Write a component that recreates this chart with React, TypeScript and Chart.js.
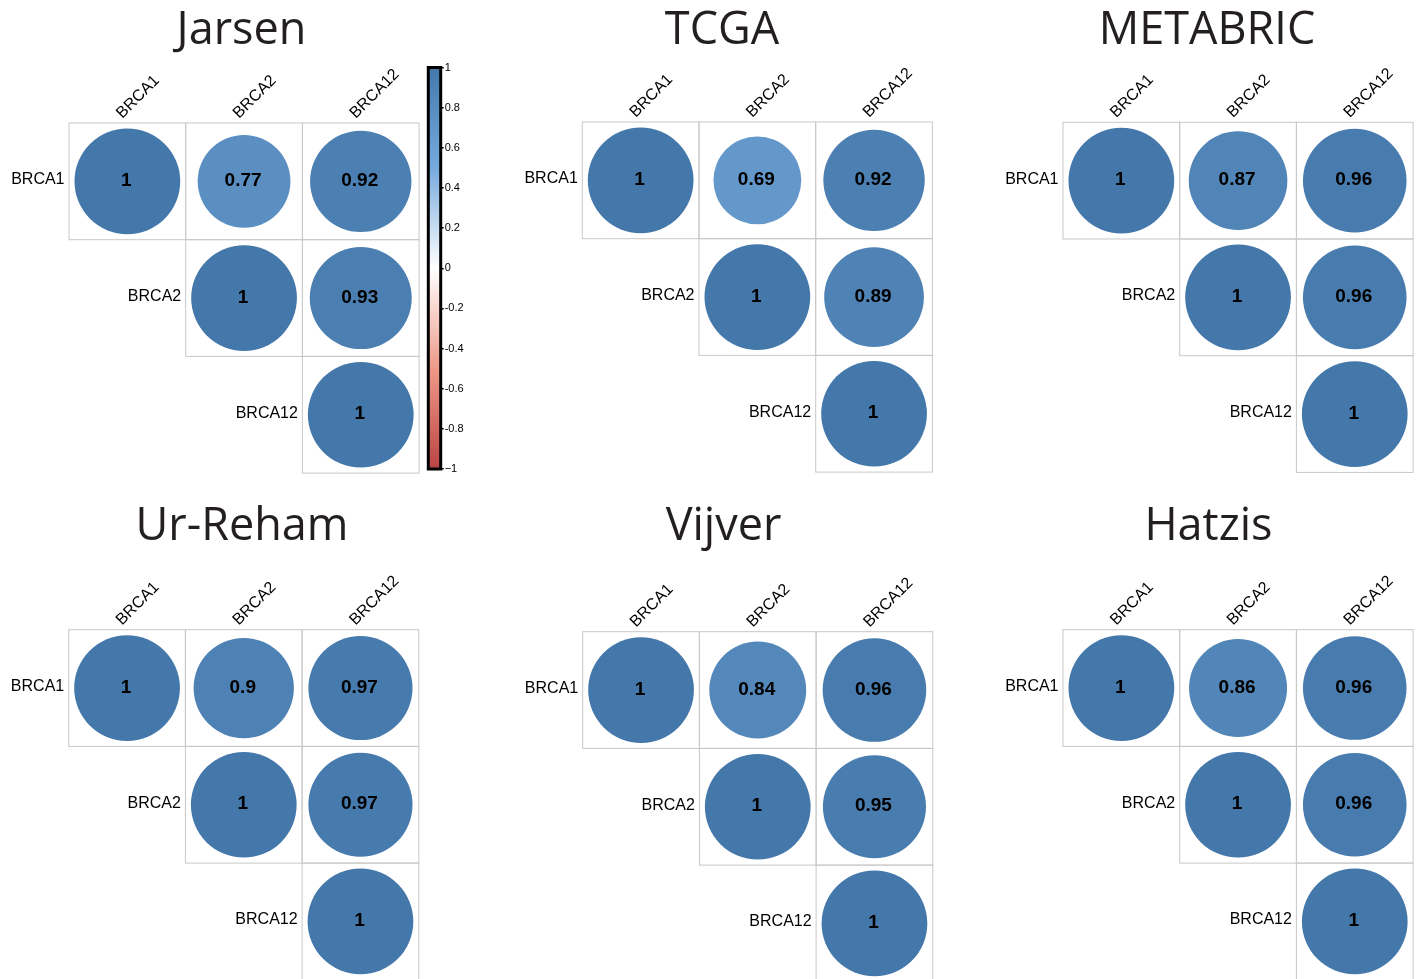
import React, { useEffect, useRef } from "react";
import { Chart, registerables } from "chart.js";

Chart.register(...registerables);

// ---------- data ----------
const genes = ["BRCA1", "BRCA2", "BRCA12"];
const panelTitles = ["Jarsen", "TCGA", "METABRIC", "Ur-Reham", "Vijver", "Hatzis"];
// upper-triangle values in order (0,0),(0,1),(0,2),(1,1),(1,2),(2,2)
const jarsenValues = [1, 0.77, 0.92, 1, 0.93, 1];
const tcgaValues = [1, 0.69, 0.92, 1, 0.89, 1];
const metabricValues = [1, 0.87, 0.96, 1, 0.96, 1];
const urRehamValues = [1, 0.9, 0.97, 1, 0.97, 1];
const vijverValues = [1, 0.84, 0.96, 1, 0.95, 1];
const hatzisValues = [1, 0.86, 0.96, 1, 0.96, 1];
const panelValues = [jarsenValues, tcgaValues, metabricValues, urRehamValues, vijverValues, hatzisValues];
const cellLabels = [
  ["1", "0.77", "0.92", "1", "0.93", "1"],
  ["1", "0.69", "0.92", "1", "0.89", "1"],
  ["1", "0.87", "0.96", "1", "0.96", "1"],
  ["1", "0.9", "0.97", "1", "0.97", "1"],
  ["1", "0.84", "0.96", "1", "0.95", "1"],
  ["1", "0.86", "0.96", "1", "0.96", "1"],
];
const colorbarTicks = [-1, -0.8, -0.6, -0.4, -0.2, 0, 0.2, 0.4, 0.6, 0.8, 1];
const colorbarTickLabels = ["\u22121", "-0.8", "-0.6", "-0.4", "-0.2", "0", "0.2", "0.4", "0.6", "0.8", "1"];
const palette = ["#BB4444", "#EE9988", "#FFFFFF", "#77AADD", "#4477AA"];

// ---------- layout ----------
const CELL = 116.7;
const panelLayouts = [
  { cx: 0, cy: 0, w: 425, h: 490, gx: 69, gy: 123, tx: 241.5, ty: 44 },
  { cx: 470, cy: 0, w: 470, h: 490, gx: 582.3, gy: 122, tx: 722, ty: 44 },
  { cx: 950, cy: 0, w: 467, h: 490, gx: 1063, gy: 122.3, tx: 1207, ty: 44 },
  { cx: 0, cy: 490, w: 425, h: 500, gx: 68.7, gy: 629.7, tx: 242, ty: 540 },
  { cx: 470, cy: 490, w: 470, h: 500, gx: 582.7, gy: 631.7, tx: 723.5, ty: 540 },
  { cx: 950, cy: 490, w: 467, h: 500, gx: 1063, gy: 629.7, tx: 1208.5, ty: 540 },
];
const colorbarLayout = { cx: 418, cy: 55, w: 52, h: 430, left: 428.3, right: 440.7, top: 67.5, bottom: 469 };

const LABEL_FONT = '16px "Liberation Sans", Arial, sans-serif';
const VALUE_FONT = 'bold 19px "Liberation Sans", Arial, sans-serif';
const TITLE_FONT = '45px "Open Sans", sans-serif';

function hexToRgb(h: string) {
  const n = parseInt(h.slice(1), 16);
  return [(n >> 16) & 255, (n >> 8) & 255, n & 255];
}
function colorFor(v: number) {
  const t = ((v + 1) / 2) * (palette.length - 1);
  const i = Math.min(Math.floor(t), palette.length - 2);
  const f = t - i;
  const a = hexToRgb(palette[i]);
  const b = hexToRgb(palette[i + 1]);
  const c = a.map((x, k) => Math.round(x + (b[k] - x) * f));
  return `rgb(${c[0]},${c[1]},${c[2]})`;
}

const cellIndex: [number, number][] = [
  [0, 0], [0, 1], [0, 2], [1, 1], [1, 2], [2, 2],
];

function radiusFor(c: any) {
  const ca = c.chart.chartArea;
  if (!ca) return 0;
  const cell = (ca.right - ca.left) / 3;
  return 0.453 * cell * Math.sqrt(Math.abs(c.raw ? c.raw.v : 0));
}

function Panel({ idx }: { idx: number }) {
  const ref = useRef<HTMLCanvasElement>(null);
  const L = panelLayouts[idx];
  useEffect(() => {
    if (!ref.current) return;
    const values = panelValues[idx];
    const points = cellIndex.map(([r, c], k) => ({ x: c + 0.5, y: r + 0.5, v: values[k] }));
    const overlay = {
      id: "corrOverlay",
      beforeDatasetsDraw(chart: any) {
        const ctx = chart.ctx;
        const xs = chart.scales.x;
        const ys = chart.scales.y;
        ctx.save();
        ctx.strokeStyle = "#c8c8c8";
        ctx.lineWidth = 1;
        cellIndex.forEach(([r, c]) => {
          const x0 = xs.getPixelForValue(c);
          const x1 = xs.getPixelForValue(c + 1);
          const y0 = ys.getPixelForValue(r);
          const y1 = ys.getPixelForValue(r + 1);
          ctx.strokeRect(x0, y0, x1 - x0, y1 - y0);
        });
        ctx.restore();
      },
      afterDatasetsDraw(chart: any) {
        const ctx = chart.ctx;
        const xs = chart.scales.x;
        const ys = chart.scales.y;
        ctx.save();
        // title
        ctx.fillStyle = "#231f20";
        ctx.font = TITLE_FONT;
        ctx.textAlign = "center";
        ctx.textBaseline = "alphabetic";
        ctx.fillText(panelTitles[idx], L.tx - L.cx, L.ty - L.cy);
        // values
        ctx.fillStyle = "#000";
        ctx.font = VALUE_FONT;
        ctx.textBaseline = "middle";
        cellIndex.forEach(([r, c], k) => {
          ctx.fillText(cellLabels[idx][k], xs.getPixelForValue(c + 0.5) - 1, ys.getPixelForValue(r + 0.5) - 0.5);
        });
        // row labels
        ctx.font = LABEL_FONT;
        ctx.textAlign = "right";
        genes.forEach((g, i) => {
          ctx.fillText(g, xs.getPixelForValue(i) - 4.5, ys.getPixelForValue(i + 0.5) - 1.5);
        });
        // column labels
        ctx.textAlign = "left";
        ctx.textBaseline = "alphabetic";
        const top = ys.getPixelForValue(0);
        genes.forEach((g, i) => {
          ctx.save();
          ctx.translate(xs.getPixelForValue(i + 0.5) - 5, top - 4);
          ctx.rotate(-Math.PI / 4);
          ctx.fillText(g, 0, 0);
          ctx.restore();
        });
        ctx.restore();
      },
    };
    const chart = new Chart(ref.current, {
      type: "scatter",
      data: {
        datasets: [
          {
            data: points as any,
            pointRadius: radiusFor,
            pointHoverRadius: radiusFor,
            pointBackgroundColor: (c: any) => colorFor(c.raw ? c.raw.v : 0),
            pointBorderWidth: 0,
            clip: false as any,
          } as any,
        ],
      },
      options: {
        responsive: false,
        animation: false,
        devicePixelRatio: 1,
        events: [],
        layout: {
          padding: {
            left: L.gx - L.cx,
            top: L.gy - L.cy,
            right: L.cx + L.w - (L.gx + 3 * CELL),
            bottom: L.cy + L.h - (L.gy + 3 * CELL),
          },
        },
        plugins: { legend: { display: false }, tooltip: { enabled: false }, title: { display: false } },
        scales: {
          x: { type: "linear", min: 0, max: 3, display: false },
          y: { type: "linear", min: 0, max: 3, reverse: true, display: false },
        },
      },
      plugins: [overlay],
    } as any);
    return () => chart.destroy();
  }, [idx]);
  return (
    <canvas
      ref={ref}
      width={L.w}
      height={L.h}
      style={{ position: "absolute", left: L.cx, top: L.cy, width: L.w, height: L.h }}
    />
  );
}

function ColorBar() {
  const ref = useRef<HTMLCanvasElement>(null);
  const B = colorbarLayout;
  useEffect(() => {
    if (!ref.current) return;
    const barPlugin = {
      id: "colorbar",
      beforeDatasetsDraw(chart: any) {
        const ctx = chart.ctx;
        const ca = chart.chartArea;
        const ys = chart.scales.y;
        const g = ctx.createLinearGradient(0, ys.getPixelForValue(-1), 0, ys.getPixelForValue(1));
        palette.forEach((col, i) => g.addColorStop(i / (palette.length - 1), col));
        ctx.save();
        ctx.fillStyle = g;
        ctx.fillRect(ca.left, ca.top, ca.right - ca.left, ca.bottom - ca.top);
        ctx.strokeStyle = "#000";
        ctx.lineWidth = 3;
        ctx.strokeRect(ca.left, ca.top, ca.right - ca.left, ca.bottom - ca.top);
        ctx.restore();
      },
    };
    const chart = new Chart(ref.current, {
      type: "scatter",
      data: { datasets: [{ data: [] }] },
      options: {
        responsive: false,
        animation: false,
        devicePixelRatio: 1,
        events: [],
        layout: {
          padding: { left: B.left - B.cx, right: 0, top: B.top - B.cy, bottom: B.cy + B.h - B.bottom },
        },
        plugins: { legend: { display: false }, tooltip: { enabled: false } },
        scales: {
          x: { type: "linear", display: false, min: 0, max: 1 },
          y: {
            type: "linear",
            position: "right",
            min: -1,
            max: 1,
            afterBuildTicks: (s: any) => {
              s.ticks = colorbarTicks.map((v) => ({ value: v }));
            },
            afterFit: (s: any) => {
              s.width = B.cx + B.w - B.right;
            },
            border: { display: false },
            grid: { drawOnChartArea: false, drawTicks: true, tickLength: 3, color: "#000", lineWidth: 1.5 },
            ticks: {
              color: "#000",
              padding: 1,
              font: { size: 11, family: '"Liberation Sans", Arial, sans-serif' },
              callback: (_v: any, i: number) => colorbarTickLabels[i],
            },
          },
        },
      },
      plugins: [barPlugin],
    } as any);
    return () => chart.destroy();
  }, []);
  return (
    <canvas
      ref={ref}
      width={B.w}
      height={B.h}
      style={{ position: "absolute", left: B.cx, top: B.cy, width: B.w, height: B.h }}
    />
  );
}

export default function App() {
  return (
    <div
      style={{
        position: "fixed",
        left: 0,
        top: 0,
        width: 1417,
        height: 979,
        overflow: "hidden",
        background: "#fff",
      }}
    >
      {panelLayouts.map((_, i) => (
        <Panel key={i} idx={i} />
      ))}
      <ColorBar />
    </div>
  );
}
